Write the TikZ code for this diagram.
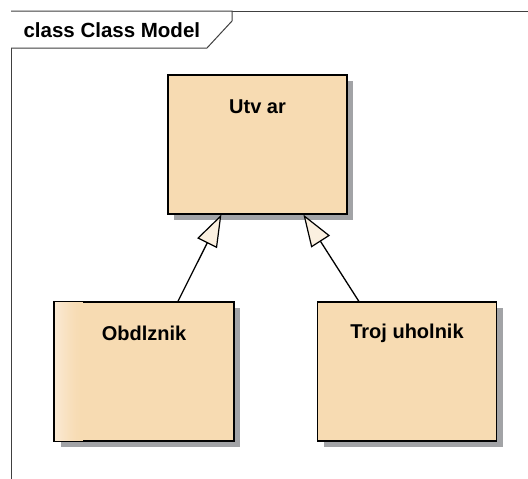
\documentclass[tikz,border=0pt]{standalone}
\usepackage{fontspec}
\setmainfont{Liberation Sans}
\usetikzlibrary{arrows.meta,shadows,calc}
\definecolor{boxfill}{HTML}{F7DBB2}
\definecolor{boxlight}{HTML}{FBEBD6}
\definecolor{shadowgray}{HTML}{A2A3A6}
\definecolor{tipfill}{HTML}{FBF0E0}
\definecolor{framegray}{HTML}{404040}
\tikzset{
  classbox/.style={draw=black, line width=1.2pt, fill=boxfill,
    minimum width=179pt, minimum height=139pt, inner sep=0pt,
    drop shadow={shadow xshift=6pt, shadow yshift=-6pt, fill=shadowgray, opacity=1}},
  classname/.style={font=\bfseries\fontsize{20}{22}\selectfont, anchor=center},
  gen/.style={line width=1.3pt, -{Triangle[open, length=32pt, width=22pt, fill=tipfill, line width=1.2pt]}},
}
\begin{document}
\begin{tikzpicture}[x=1pt,y=-1pt]
\useasboundingbox (0,0) rectangle (528,479);
\fill[white] (0,0) rectangle (528,479);
% frame
\draw[framegray, line width=1pt] (11,479) -- (11,11) -- (528,11);
\draw[framegray, line width=1pt, fill=white] (11,11) -- (232,11) -- (232,21) -- (207,48) -- (11,48);
\node[font=\bfseries\fontsize{20.5}{22}\selectfont, anchor=base west] (title) at (20,37) {class Class Model};
% boxes
\node[classbox] (utv) at (257.5,144.5) {};
\node[classbox] (obd) at (144,371.5) {};
\foreach \i in {0,...,27} {
  \pgfmathtruncatemacro{\pct}{100*(1-\i/28)^1.5}
  \fill[boxlight!\pct!boxfill] ($(obd.north west)+(0.5+\i,0.5)$) rectangle ($(obd.south west)+(1.7+\i,-0.5)$);
}
\draw[line width=1.2pt] (obd.north west) rectangle (obd.south east);
\node[classbox] (tro) at (407,371.5) {};
\node[classname] (utvt) at ($(utv.north)+(0,32)$) {Utv ar};
\node[classname] (obdt) at ($(obd.north)+(0,32)$) {Obdlznik};
\node[classname] (trot) at ($(tro.north)+(0,32)$) {Troj uholnik};
% generalizations
\draw[gen] ($(obd.north west)+(124,0)$) -- ($(utv.south west)+(54,0)$);
\draw[gen] ($(tro.north west)+(42,0)$) -- ($(utv.south west)+(136,0)$);
\end{tikzpicture}
\end{document}
